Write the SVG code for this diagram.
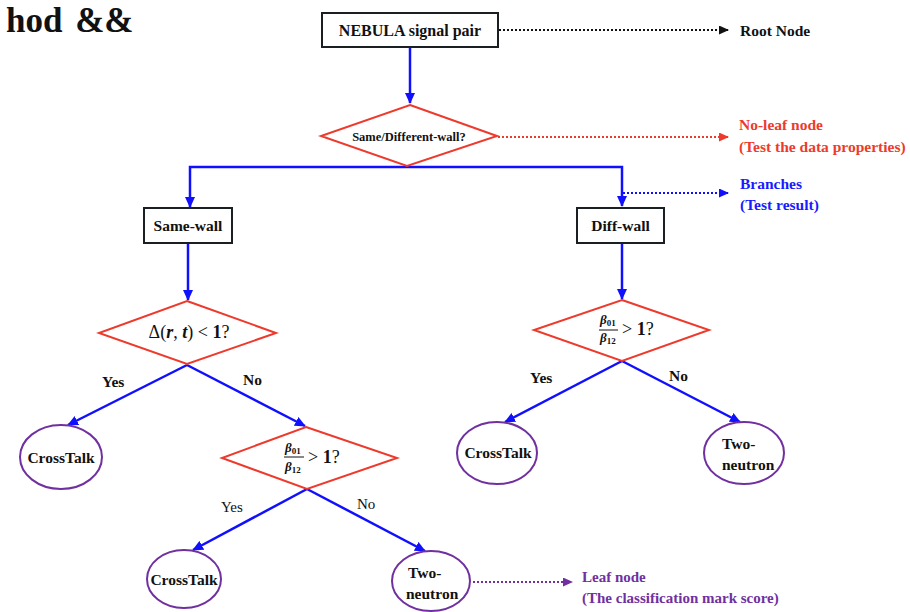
<svg xmlns="http://www.w3.org/2000/svg" width="910" height="612" viewBox="0 0 910 612">
<style>
text{font-family:"Liberation Serif","Times New Roman",serif;font-weight:bold;fill:#111}
.box{fill:#fff;stroke:#1a1f22;stroke-width:2}
.dia{fill:#fff;stroke:#ee3a2c;stroke-width:2}
.leaf{fill:#fff;stroke:#7030a0;stroke-width:2}
.br{fill:none;stroke:#1010ff;stroke-width:2.5}
.dot{fill:none;stroke-width:2;stroke-dasharray:2 2}
.lbl{font-size:15.5px}
.m{font-weight:normal}
.bi{font-style:italic;font-weight:bold}
</style>
<defs>
<marker id="ab" markerUnits="userSpaceOnUse" markerWidth="11" markerHeight="10" refX="10" refY="5" orient="auto"><path d="M0,0 L11,5 L0,10 z" fill="#1010ff"/></marker>
<marker id="ak" markerUnits="userSpaceOnUse" markerWidth="10" markerHeight="9" refX="9" refY="4.5" orient="auto"><path d="M0,0 L10,4.5 L0,9 z" fill="#111"/></marker>
<marker id="ar" markerUnits="userSpaceOnUse" markerWidth="10" markerHeight="9" refX="9" refY="4.5" orient="auto"><path d="M0,0 L10,4.5 L0,9 z" fill="#ee3a2c"/></marker>
<marker id="au" markerUnits="userSpaceOnUse" markerWidth="10" markerHeight="9" refX="9" refY="4.5" orient="auto"><path d="M0,0 L10,4.5 L0,9 z" fill="#1010ff"/></marker>
<marker id="ap" markerUnits="userSpaceOnUse" markerWidth="10" markerHeight="9" refX="9" refY="4.5" orient="auto"><path d="M0,0 L10,4.5 L0,9 z" fill="#7030a0"/></marker>
</defs>

<text x="6" y="32" font-size="35" word-spacing="4">hod &amp;&amp;</text>

<g id="connectors">
<path class="br" d="M410,47 V103" marker-end="url(#ab)"/>
<path class="br" d="M407,167 H190 V207" marker-end="url(#ab)"/>
<path class="br" d="M407,167 H622 V206" marker-end="url(#ab)"/>
<path class="br" d="M188,243 V300" marker-end="url(#ab)"/>
<path class="br" d="M622,243 V299" marker-end="url(#ab)"/>
<path class="br" d="M187,365 L68,425" marker-end="url(#ab)"/>
<path class="br" d="M187,365 L305,426" marker-end="url(#ab)"/>
<path class="br" d="M622,361 L505,422" marker-end="url(#ab)"/>
<path class="br" d="M622,361 L740,422" marker-end="url(#ab)"/>
<path class="br" d="M307,489 L193,550" marker-end="url(#ab)"/>
<path class="br" d="M307,489 L425,551" marker-end="url(#ab)"/>
<path class="dot" stroke="#111" d="M499,30 H728" marker-end="url(#ak)"/>
<path class="dot" stroke="#ee3a2c" d="M498,137 H728" marker-end="url(#ar)"/>
<path class="dot" stroke="#1010ff" d="M623,193 H728" marker-end="url(#au)"/>
<path class="dot" stroke="#7030a0" d="M473,582 H572" marker-end="url(#ap)"/>
<text class="lbl" x="102" y="387" font-size="15">Yes</text>
<text class="lbl" x="243" y="385" font-size="15">No</text>
<text class="lbl" x="530" y="383" font-size="15">Yes</text>
<text class="lbl" x="669" y="381" font-size="15">No</text>
<text class="m" x="221" y="512" font-size="15">Yes</text>
<text class="m" x="357" y="509" font-size="15">No</text>
</g>

<g id="root">
<rect class="box" x="322" y="13" width="176" height="34"/>
<text x="410" y="36" font-size="16" text-anchor="middle">NEBULA signal pair</text>
</g>

<g id="d1">
<polygon class="dia" points="410,105 497,136 407,166 321,136"/>
<text x="409" y="141" font-size="12.5" text-anchor="middle">Same/Different-wall?</text>
</g>

<g id="samewall">
<rect class="box" x="144" y="208" width="88" height="35"/>
<text x="188" y="231" font-size="15.5" text-anchor="middle">Same-wall</text>
</g>

<g id="diffwall">
<rect class="box" x="577" y="208" width="87" height="35"/>
<text x="620.5" y="231" font-size="15.5" text-anchor="middle">Diff-wall</text>
</g>

<g id="d2">
<polygon class="dia" points="187,301 276,333 187,364 99,333"/>
<text x="189" y="338" font-size="18" text-anchor="middle"><tspan class="m">Δ(</tspan><tspan class="bi">r</tspan><tspan class="m">, </tspan><tspan class="bi">t</tspan><tspan class="m">) &lt; </tspan>1<tspan class="m">?</tspan></text>
</g>

<g id="d3">
<polygon class="dia" points="622,300 709,330 622,361 534,330"/>
<text x="600" y="324" font-size="13"><tspan class="bi">β</tspan><tspan font-size="9" dy="2">01</tspan></text>
<line x1="599" y1="330" x2="618" y2="330" stroke="#111" stroke-width="1"/>
<text x="600" y="342" font-size="13"><tspan class="bi">β</tspan><tspan font-size="9" dy="2">12</tspan></text>
<text x="622" y="335" font-size="18"><tspan class="m">&gt; </tspan>1<tspan class="m">?</tspan></text>
</g>

<g id="d4">
<polygon class="dia" points="306,427 397,458 307,489 222,458"/>
<text x="285" y="452" font-size="13"><tspan class="bi">β</tspan><tspan font-size="9" dy="2">01</tspan></text>
<line x1="284" y1="457" x2="304" y2="457" stroke="#111" stroke-width="1"/>
<text x="285" y="471" font-size="13"><tspan class="bi">β</tspan><tspan font-size="9" dy="2">12</tspan></text>
<text x="308" y="463" font-size="18"><tspan class="m">&gt; </tspan>1<tspan class="m">?</tspan></text>
</g>

<g id="leaf1">
<ellipse class="leaf" cx="61" cy="457" rx="41" ry="32"/>
<text x="61" y="463" font-size="15.5" text-anchor="middle">CrossTalk</text>
</g>

<g id="leaf2">
<ellipse class="leaf" cx="497" cy="453" rx="40" ry="31"/>
<text x="498" y="458" font-size="15.5" text-anchor="middle">CrossTalk</text>
</g>

<g id="leaf3">
<ellipse class="leaf" cx="744" cy="453" rx="40" ry="31"/>
<text x="722" y="449" font-size="15.5">Two-</text>
<text x="722" y="470" font-size="15.5">neutron</text>
</g>

<g id="leaf4">
<ellipse class="leaf" cx="184" cy="579" rx="37" ry="29"/>
<text x="184" y="585" font-size="15.5" text-anchor="middle">CrossTalk</text>
</g>

<g id="leaf5">
<ellipse class="leaf" cx="431" cy="581" rx="39" ry="30"/>
<text x="408" y="578" font-size="15.5">Two-</text>
<text x="406" y="599" font-size="15.5">neutron</text>
</g>

<g id="legend">
<text x="740" y="36" font-size="15.5">Root Node</text>
<text x="739" y="130" font-size="15.5" style="fill:#ee3a2c">No-leaf node</text>
<text x="739" y="152" font-size="15.5" style="fill:#ee3a2c">(Test the data properties)</text>
<text x="740" y="189" font-size="15.5" style="fill:#1a1aff">Branches</text>
<text x="740" y="210" font-size="15.5" style="fill:#1a1aff">(Test result)</text>
<text x="582" y="582" font-size="15" style="fill:#7030a0">Leaf node</text>
<text x="582" y="603" font-size="15" style="fill:#7030a0">(The classification mark score)</text>
</g>
</svg>
